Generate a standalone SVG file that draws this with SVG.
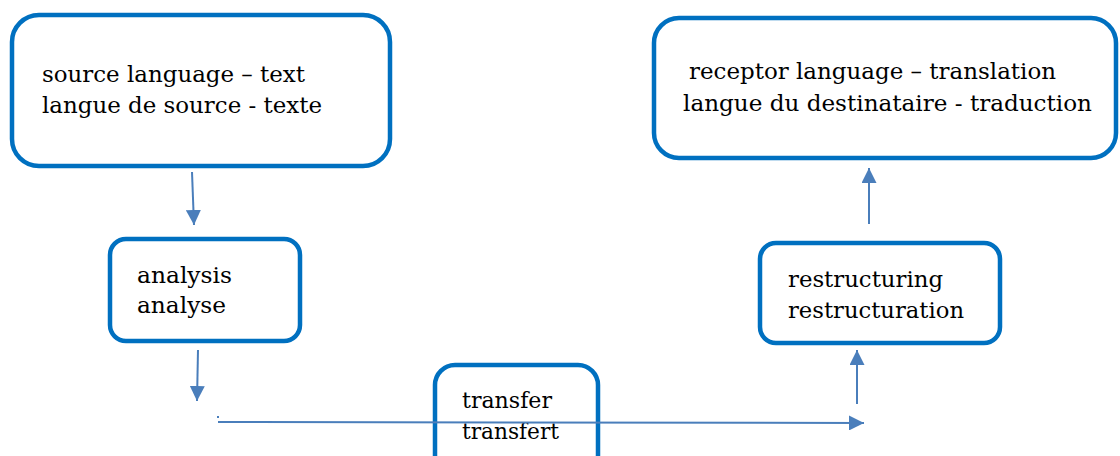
<svg xmlns="http://www.w3.org/2000/svg" width="1120" height="456" viewBox="0 0 1120 456">
<style>
.box{fill:#fff;stroke:#0070C0;stroke-width:4.5}
.t{font-family:"DejaVu Serif","Liberation Serif",serif;font-size:22px;fill:#000}
.c{stroke:#4a7ebb;stroke-width:2;fill:none}
.dot{fill:#4a7ebb}
</style>
<defs>
<marker id="ah" viewBox="0 0 10 10" refX="10" refY="5" markerWidth="7.5" markerHeight="7.5" orient="auto" markerUnits="strokeWidth">
<path d="M0,0 L10,5 L0,10 z" fill="#4a7ebb"/>
</marker>
</defs>
<rect width="1120" height="456" fill="#fff"/>
<g id="source">
<rect class="box" x="12" y="15" width="378" height="151" rx="27"/>
<text class="t" x="42" y="82" textLength="263" lengthAdjust="spacingAndGlyphs">source language – text</text>
<text class="t" x="42" y="113" textLength="280" lengthAdjust="spacingAndGlyphs">langue de source - texte</text>
</g>
<g id="receptor">
<rect class="box" x="654" y="18" width="462" height="140" rx="25"/>
<text class="t" x="689" y="79" textLength="367" lengthAdjust="spacingAndGlyphs">receptor language – translation</text>
<text class="t" x="683" y="111" textLength="409" lengthAdjust="spacingAndGlyphs">langue du destinataire - traduction</text>
</g>
<g id="analysis">
<rect class="box" x="110" y="239" width="190" height="102" rx="16"/>
<text class="t" x="137" y="283" textLength="95" lengthAdjust="spacingAndGlyphs">analysis</text>
<text class="t" x="137" y="313" textLength="89" lengthAdjust="spacingAndGlyphs">analyse</text>
</g>
<g id="restructuring">
<rect class="box" x="760" y="243" width="240" height="100" rx="16"/>
<text class="t" x="788" y="287" textLength="155" lengthAdjust="spacingAndGlyphs">restructuring</text>
<text class="t" x="788" y="318" textLength="176" lengthAdjust="spacingAndGlyphs">restructuration</text>
</g>
<g id="transfer">
<rect class="box" x="435" y="365" width="163" height="110" rx="20" style="fill:none"/>
<text class="t" x="462" y="408" textLength="90" lengthAdjust="spacingAndGlyphs">transfer</text>
<text class="t" x="462" y="439" textLength="97" lengthAdjust="spacingAndGlyphs">transfert</text>
</g>
<g id="connectors">
<line class="c" x1="192" y1="172" x2="194" y2="225" marker-end="url(#ah)"/>
<line class="c" x1="198" y1="350" x2="197" y2="401" marker-end="url(#ah)"/>
<line class="c" x1="218" y1="422" x2="864" y2="423" marker-end="url(#ah)"/>
<rect class="dot" x="217" y="416" width="2" height="2"/>
<line class="c" x1="857" y1="404" x2="857" y2="350" marker-end="url(#ah)"/>
<line class="c" x1="869" y1="224" x2="869" y2="168" marker-end="url(#ah)"/>
</g>
</svg>
